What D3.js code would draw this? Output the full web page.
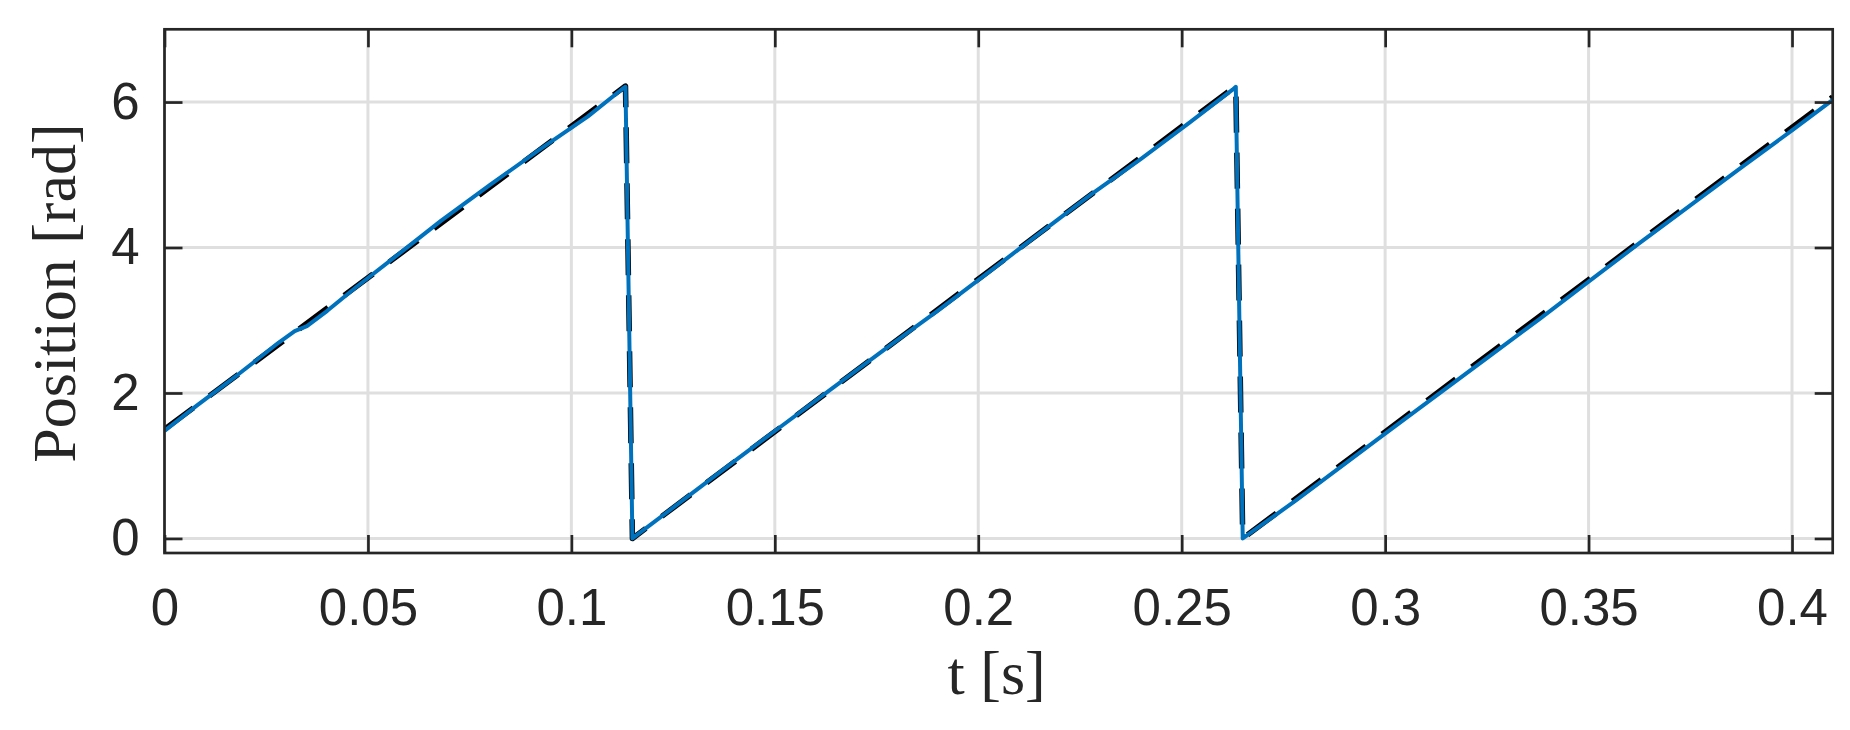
<!DOCTYPE html>
<html>
<head>
<meta charset="utf-8">
<script src="https://cdn.jsdelivr.net/npm/d3@7"></script>
<style>
    body { margin: 0; background: #fff; }
    svg { display: block; }
</style>
</head>
<body>
<div id="chart"></div>
<script>
// reference (dashed black) trajectory
var refTime = [0, 0.1133, 0.1150, 0.2633, 0.2650, 0.41]
var refPos = [1.50, 6.22, 0, 6.22, 0, 6.07]

// measured (blue) trajectory
var measTime = [0, 0.008, 0.018, 0.028, 0.032, 0.035, 0.040, 0.047, 0.058, 0.068, 0.080, 0.092, 0.104, 0.1125, 0.1133,
    0.1150, 0.128, 0.140, 0.152, 0.165, 0.178, 0.190, 0.203, 0.215, 0.228, 0.240, 0.252, 0.2625, 0.2633,
    0.2650, 0.278, 0.289, 0.300, 0.312, 0.325, 0.338, 0.350, 0.362, 0.375, 0.388, 0.400, 0.41]
var measPos = [1.48, 1.83, 2.25, 2.69, 2.85, 2.92, 3.13, 3.45, 3.93, 4.37, 4.86, 5.34, 5.80, 6.18, 6.21,
    0.0, 0.55, 1.06, 1.56, 2.10, 2.64, 3.13, 3.68, 4.19, 4.74, 5.22, 5.72, 6.17, 6.21,
    0.0, 0.52, 0.98, 1.44, 1.94, 2.48, 3.02, 3.53, 4.04, 4.58, 5.12, 5.61, 6.03]

var xTicks = [0, 0.05, 0.1, 0.15, 0.2, 0.25, 0.3, 0.35, 0.4]
var yTicks = [0, 2, 4, 6]

const W = 1850, H = 730
const margin = { top: 29.3, right: 17.3, bottom: 177, left: 164.5 },
    width = W - margin.left - margin.right,
    height = H - margin.top - margin.bottom;

const axisColor = "#262626"

var svg = d3.select("#chart")
    .append("svg")
    .attr("width", W)
    .attr("height", H)
    .append("g")
    .attr("transform", "translate(" + margin.left + "," + margin.top + ")");

var x = d3.scaleLinear().domain([0, 0.41]).range([0, width])
var y = d3.scaleLinear().domain([-0.2, 7]).range([height, 0])

// grid
svg.append("g")
    .selectAll("line")
    .data(xTicks)
    .enter().append("line")
    .attr("x1", d => x(d)).attr("x2", d => x(d))
    .attr("y1", 0).attr("y2", height)
    .attr("stroke", "#dfdfdf")
    .attr("stroke-width", 3)
svg.append("g")
    .selectAll("line")
    .data(yTicks)
    .enter().append("line")
    .attr("y1", d => y(d)).attr("y2", d => y(d))
    .attr("x1", 0).attr("x2", width)
    .attr("stroke", "#dfdfdf")
    .attr("stroke-width", 3)

// lines
svg.append("clipPath").attr("id", "clip")
    .append("rect").attr("width", width).attr("height", height)

const line = d3.line()
    .x(d => x(d[0]))
    .y(d => y(d[1]))

var plot = svg.append("g").attr("clip-path", "url(#clip)")

plot.append("path")
    .datum(d3.zip(refTime, refPos))
    .attr("d", line)
    .attr("fill", "none")
    .attr("stroke", "#000")
    .attr("stroke-width", 5.5)
    .attr("stroke-dasharray", "36,20")
    .attr("stroke-linejoin", "round")

plot.append("path")
    .datum(d3.zip(measTime, measPos))
    .attr("d", line)
    .attr("fill", "none")
    .attr("stroke", "#0072BD")
    .attr("stroke-width", 4)
    .attr("stroke-linejoin", "round")

// axes, ticks inward on all four sides
function styleAxis(g) {
    g.select(".domain").remove()
    g.selectAll(".tick line").attr("stroke", axisColor).attr("stroke-width", 2.7)
    g.selectAll(".tick text")
        .attr("fill", axisColor)
        .style("font-family", "'Liberation Sans', Arial, sans-serif")
        .style("font-size", "51px")
}

svg.append("g")
    .attr("transform", "translate(0," + height + ")")
    .call(d3.axisBottom(x).tickValues(xTicks).tickSize(-18).tickPadding(36).tickFormat(d3.format("~g")))
    .call(styleAxis)
svg.append("g")
    .call(d3.axisTop(x).tickValues(xTicks).tickSize(-18).tickFormat(""))
    .call(styleAxis)
svg.append("g")
    .call(d3.axisLeft(y).tickValues(yTicks).tickSize(-18).tickPadding(25))
    .call(styleAxis)
svg.append("g")
    .attr("transform", "translate(" + width + ",0)")
    .call(d3.axisRight(y).tickValues(yTicks).tickSize(-18).tickFormat(""))
    .call(styleAxis)

svg.append("rect")
    .attr("width", width)
    .attr("height", height)
    .attr("fill", "none")
    .attr("stroke", axisColor)
    .attr("stroke-width", 2.7)

// labels
svg.append("text")
    .attr("x", width / 2 - 2)
    .attr("y", 694 - margin.top)
    .attr("text-anchor", "middle")
    .attr("fill", axisColor)
    .style("font-family", "'Liberation Serif', 'Times New Roman', serif")
    .style("font-size", "62px")
    .text("t [s]")

svg.append("text")
    .attr("transform", "translate(" + (75 - margin.left) + "," + (293 - margin.top) + ") rotate(-90)")
    .attr("text-anchor", "middle")
    .attr("fill", axisColor)
    .style("font-family", "'Liberation Serif', 'Times New Roman', serif")
    .style("font-size", "62px")
    .text("Position [rad]")
</script>
</body>
</html>
